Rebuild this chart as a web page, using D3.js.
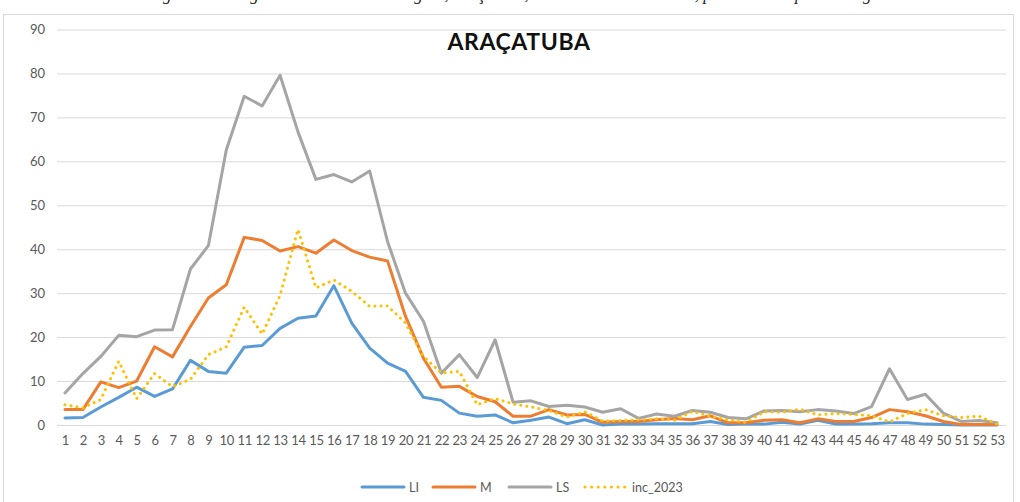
<!DOCTYPE html>
<html>
<head>
<meta charset="utf-8">
<script src="https://cdn.jsdelivr.net/npm/d3@7"></script>
<style>
    body { margin: 0; background: #fff; }
    svg { display: block; }
    .tick text { font-family: Lato, "Open Sans", sans-serif; fill: #595959; }
</style>
</head>
<body>
<script>
(function(){

    //weeks 1..53
    var weeks = d3.range(1, 54);

    //series values
    var LI = [1.6, 1.7, 4.1, 6.3, 8.6, 6.5, 8.2, 14.7, 12.2, 11.8, 17.7, 18.1, 22.0, 24.3, 24.8, 31.7, 23.2, 17.5, 14.1, 12.2,
              6.3, 5.6, 2.7, 2.0, 2.3, 0.5, 1.1, 1.8, 0.3, 1.2, 0.0, 0.2, 0.2, 0.3, 0.3, 0.3, 0.8, 0.1, 0.2, 0.2,
              0.6, 0.2, 1.1, 0.2, 0.2, 0.3, 0.5, 0.5, 0.2, 0.1, 0.0, 0.0, 0.0];
    var M = [3.5, 3.5, 9.8, 8.5, 10.0, 17.8, 15.5, 22.4, 28.9, 31.9, 42.7, 42.0, 39.6, 40.6, 39.1, 42.1, 39.7, 38.2, 37.3, 24.7,
             15.2, 8.6, 8.8, 6.5, 5.3, 2.0, 2.0, 3.5, 2.3, 2.4, 0.6, 0.8, 0.8, 1.2, 1.5, 1.2, 2.1, 0.5, 0.5, 1.1,
             1.2, 0.5, 1.4, 0.8, 0.8, 1.7, 3.5, 3.0, 2.1, 0.8, 0.1, 0.1, 0.1];
    var LS = [7.3, 11.7, 15.6, 20.4, 20.1, 21.6, 21.7, 35.5, 40.8, 62.6, 74.8, 72.6, 79.6, 66.7, 55.9, 57.0, 55.3, 57.8, 41.7, 30.0,
              23.6, 11.8, 16.0, 10.8, 19.4, 5.2, 5.5, 4.2, 4.5, 4.1, 2.9, 3.7, 1.5, 2.5, 2.0, 3.3, 2.9, 1.7, 1.4, 3.2,
              3.3, 3.0, 3.5, 3.2, 2.6, 4.2, 12.8, 5.8, 7.0, 2.7, 0.8, 1.0, 0.5];
    var inc2023 = [4.6, 3.9, 5.8, 14.5, 6.0, 11.7, 8.7, 10.4, 16.0, 17.8, 26.8, 20.7, 29.5, 44.5, 31.2, 33.0, 30.4, 27.0, 27.1, 23.2,
                   15.6, 11.8, 12.2, 4.6, 6.0, 4.8, 4.1, 3.3, 1.8, 3.0, 0.9, 1.0, 1.2, 1.4, 1.1, 3.1, 2.0, 1.2, 0.6, 3.0,
                   2.9, 3.6, 2.3, 2.6, 2.4, 2.1, 0.7, 2.6, 3.5, 2.1, 1.7, 2.0, 0.2];
    var yTicks = [0, 10, 20, 30, 40, 50, 60, 70, 80, 90];

    var seriesNames = ["LI", "M", "LS", "inc_2023"];
    var seriesValues = [LI, M, LS, inc2023];
    var seriesColors = ["#5B9BD5", "#ED7D31", "#A5A5A5", "#FFC000"];

    var width = 1020, height = 502;

    var svg = d3.select("body").append("svg")
        .attr("width", width)
        .attr("height", height);

    //caption line above the chart frame (only its lower edge is inside the picture)
    svg.append("text")
        .attr("x", 520)
        .attr("y", 0)
        .attr("text-anchor", "middle")
        .style("font-family", "'Liberation Serif', serif")
        .style("font-style", "italic")
        .style("font-size", "17px")
        .attr("fill", "#222")
        .text("Figura 8 – Diagrama de controle da região, Araçatuba, com incidência de 2023, por semana epidemiológica");

    //chart frame
    svg.append("rect")
        .attr("x", 3.5)
        .attr("y", 14.5)
        .attr("width", 1010)
        .attr("height", 490)
        .attr("fill", "none")
        .attr("stroke", "#D9D9D9");

    var x = d3.scalePoint()
        .domain(weeks)
        .range([56, 1006])
        .padding(0.5);

    var y = d3.scaleLinear()
        .domain([0, 90])
        .range([425, 29.5]);

    //gridlines + y labels
    var yAxis = d3.axisLeft(y)
        .tickValues(yTicks)
        .tickSize(-(1006 - 57))
        .tickPadding(12);

    var gy = svg.append("g")
        .attr("transform", "translate(57,0)")
        .call(yAxis);
    gy.select(".domain").remove();
    gy.selectAll(".tick line").attr("stroke", "#D9D9D9").attr("stroke-width", 1);
    gy.selectAll(".tick text").style("font-size", "13px");

    //x axis labels
    var xAxis = d3.axisBottom(x)
        .tickSize(0)
        .tickPadding(11);

    var gx = svg.append("g")
        .attr("transform", "translate(0,425)")
        .call(xAxis);
    gx.select(".domain").remove();
    gx.selectAll(".tick text").style("font-size", "13px").attr("letter-spacing", "-0.3");

    //lines
    var line = d3.line()
        .x(function(d, i){ return x(weeks[i]); })
        .y(function(d){ return y(d); });

    seriesValues.forEach(function(vals, k){
        var path = svg.append("path")
            .datum(vals)
            .attr("fill", "none")
            .attr("stroke", seriesColors[k])
            .attr("stroke-width", 3)
            .attr("stroke-linejoin", "round")
            .attr("stroke-linecap", "round")
            .attr("d", line);
        if (seriesNames[k] == "inc_2023"){
            path.attr("stroke-dasharray", "0.1,6");
        }
    });

    //title
    svg.append("text")
        .attr("x", 519)
        .attr("y", 50)
        .attr("text-anchor", "middle")
        .style("font-family", "Lato, sans-serif")
        .style("font-weight", "bold")
        .style("font-size", "23px")
        .attr("letter-spacing", "0.6")
        .attr("fill", "#111")
        .text("ARAÇATUBA");

    //legend
    var legendX = [362, 433, 509, 585];
    var legend = svg.append("g");
    seriesNames.forEach(function(name, k){
        var g = legend.append("g").attr("transform", "translate(" + legendX[k] + ",487)");
        var l = g.append("line")
            .attr("x1", 0).attr("x2", 42)
            .attr("y1", 0).attr("y2", 0)
            .attr("stroke", seriesColors[k])
            .attr("stroke-width", 3)
            .attr("stroke-linecap", "round");
        if (name == "inc_2023"){
            l.attr("stroke-dasharray", "0.1,6.5");
        }
        g.append("text")
            .attr("x", 47)
            .attr("y", 4.5)
            .style("font-family", "Lato, sans-serif")
            .style("font-size", "12.5px")
            .attr("fill", "#595959")
            .text(name);
    });

})();
</script>
</body>
</html>
